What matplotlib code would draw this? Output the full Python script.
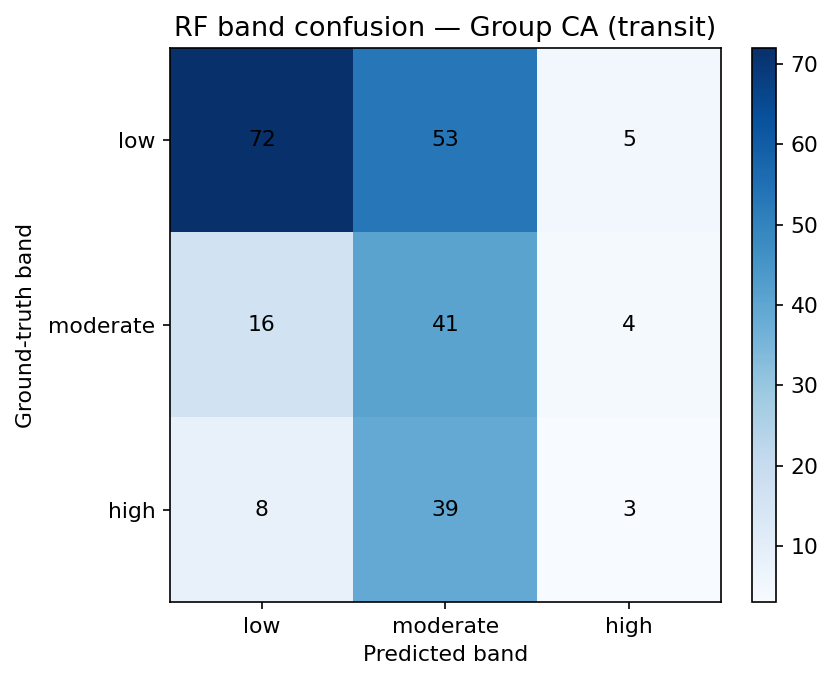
import matplotlib
matplotlib.use("Agg")
import matplotlib.pyplot as plt
import numpy as np

bands = ["low", "moderate", "high"]
counts = np.array([
    [72, 53, 5],
    [16, 41, 4],
    [8, 39, 3],
])

plt.rcParams["font.size"] = 10.5

fig = plt.figure(figsize=(8.39 / 1.5, 6.87 / 1.5), dpi=150)
ax = fig.add_axes([0.2026, 0.1237, 0.6567, 0.8064])
cax = fig.add_axes([0.8963, 0.1237, 0.0286, 0.8064])

im = ax.imshow(counts, cmap="Blues", aspect="auto")
for i in range(len(bands)):
    for j in range(len(bands)):
        ax.text(j, i, str(counts[i, j]), ha="center", va="center", color="black")

ax.set_xticks(range(len(bands)))
ax.set_xticklabels(bands)
ax.set_yticks(range(len(bands)))
ax.set_yticklabels(bands)
ax.set_xlabel("Predicted band")
ax.set_ylabel("Ground-truth band", labelpad=6)
ax.set_title("RF band confusion — Group CA (transit)", fontsize=13)
fig.colorbar(im, cax=cax)

fig.savefig("out.png", dpi=150)
